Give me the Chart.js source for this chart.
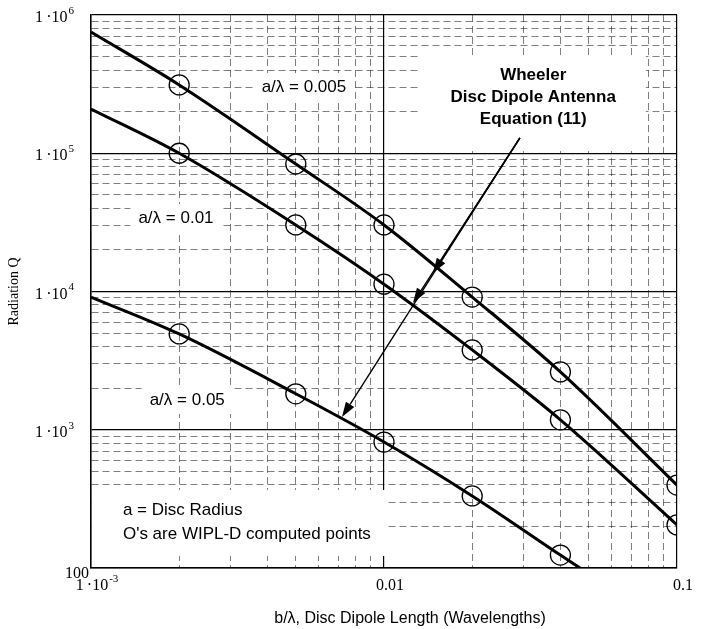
<!DOCTYPE html>
<html><head><meta charset="utf-8">
<script src="https://cdn.jsdelivr.net/npm/chart.js@4.4.1/dist/chart.umd.min.js"></script>
<style>html,body{margin:0;padding:0;background:#fff}#wrap{width:706px;height:629px}</style>
</head><body><div id="wrap"><canvas id="c" width="706" height="629"></canvas></div>
<script>
// ---- data ----
const lineX   = [0.001, 0.002, 0.005, 0.01, 0.02, 0.04, 0.1];
const lineQ005 = [7.53e5, 3.12e5, 8.36e4, 3.03e4, 9.12e3, 2.62e3, 398];
const lineQ01  = [2.09e5, 1.00e5, 3.03e4, 1.13e4, 3.78e3, 1.18e3, 205];
const lineX05  = [0.001, 0.002, 0.005, 0.01, 0.02, 0.04, 0.0467];
const lineQ05  = [9.12e3, 4.93e3, 1.82e3, 815, 332, 124, 100];

const ptX     = [0.002, 0.005, 0.01, 0.02, 0.04, 0.1];
const ptQ005  = [3.12e5, 8.36e4, 3.03e4, 9.12e3, 2.62e3, 398];
const ptQ01   = [1.00e5, 3.03e4, 1.13e4, 3.78e3, 1.18e3, 205];
const ptX05   = [0.002, 0.005, 0.01, 0.02, 0.04];
const ptQ05   = [4.93e3, 1.82e3, 815, 332, 124];

const xTickValues = [0.001, 0.01, 0.1];
const xTickLabels = ['1·10⁻³', '0.01', '0.1'];
const yTickValues = [100, 1e3, 1e4, 1e5, 1e6];
const yTickLabels = ['100', '1·10³', '1·10⁴', '1·10⁵', '1·10⁶'];

const xTitle = 'b/λ, Disc Dipole Length (Wavelengths)';
const yTitle = 'Radiation Q';

// annotation anchors in data coordinates
const labelTexts = ['a/λ = 0.005', 'a/λ = 0.01', 'a/λ = 0.05'];
const labelAt = [[0.00533, 3.01e5], [0.00195, 3.40e4], [0.00213, 1641]];
const wheelerLines = ['Wheeler', 'Disc Dipole Antenna', 'Equation (11)'];
const wheelerAt = [0.0323, 2.55e5];
const noteLines = ['a = Disc Radius', "O's are WIPL-D computed points"];
const noteAt = [0.001285, 263];
const arrowFrom = [0.0291, 1.29e5];
const arrowTips = [[0.01469, 1.36e4], [0.01256, 8260], [0.00719, 1236]];

// ---- helpers ----
const pairs = (xs, ys) => xs.map((x, i) => ({x, y: ys[i]}));
const isDecade = v => Math.abs(Math.log10(v) - Math.round(Math.log10(v))) < 1e-6;
function logGrid(min, max) {
  const out = [];
  const e0 = Math.round(Math.log10(min)), e1 = Math.round(Math.log10(max));
  for (let e = e0; e < e1; e++)
    for (let k = 1; k <= 9; k++) out.push(Number((k * Math.pow(10, e)).toPrecision(6)));
  out.push(max);
  return out;
}
const SUP = '⁰¹²³⁴⁵⁶⁷⁸⁹⁻', NRM = '0123456789-';
function splitSup(t) {
  let base = '', sup = '';
  for (const ch of t) { const k = SUP.indexOf(ch); if (k >= 0) sup += NRM[k]; else base += ch; }
  return {base: base.replace('·', '\u2009·'), sup};
}
const SERIF = "'Liberation Serif', 'Times New Roman', serif";
const SANS = "'Liberation Sans', Arial, sans-serif";
const BASEF = '16px ' + SERIF, SUPF = '11px ' + SERIF;

function drawTickLabel(ctx, text, x, y, align) {
  const {base, sup} = splitSup(text);
  ctx.font = BASEF; const wb = ctx.measureText(base).width;
  ctx.font = SUPF; const ws = sup ? ctx.measureText(sup).width + 1 : 0;
  const w = wb + ws;
  let left = align === 'right' ? x - w : align === 'center' ? x - w / 2 : x;
  ctx.textAlign = 'left'; ctx.textBaseline = 'middle';
  ctx.font = BASEF; ctx.fillText(base, left, y);
  if (sup) { ctx.font = SUPF; ctx.fillText(sup, left + wb + 1, y - 7); }
}

const gridColor = ctx => (ctx.tick && isDecade(ctx.tick.value)) ? '#000' : 'rgba(0,0,0,0.5)';
const gridWidth = ctx => (ctx.tick && isDecade(ctx.tick.value)) ? 1.2 : 1;
const gridDash = ctx => (ctx.type === 'tick' && ctx.tick && !isDecade(ctx.tick.value)) ? [7, 4] : [];

const annot = {
  id: 'annot',
  beforeDatasetsDraw(chart) {
    const {ctx, chartArea: a, scales: {x, y}} = chart;
    ctx.save();
    ctx.beginPath(); ctx.rect(a.left + 1, a.top + 1, a.right - a.left - 2, a.bottom - a.top - 2); ctx.clip();
    ctx.fillStyle = '#fff';
    ctx.font = '17px ' + SANS;
    labelTexts.forEach((t, i) => {
      const px = x.getPixelForValue(labelAt[i][0]), py = y.getPixelForValue(labelAt[i][1]);
      const w = ctx.measureText(t).width;
      ctx.fillRect(px - w / 2 - 8, py - 14, w + 16, 28);
    });
    ctx.font = 'bold 17px ' + SANS;
    {
      const px = x.getPixelForValue(wheelerAt[0]), py = y.getPixelForValue(wheelerAt[1]);
      const w = Math.max(...wheelerLines.map(t => ctx.measureText(t).width));
      ctx.fillRect(px - w / 2 - 30, py - 42, w + 60, 96);
    }
    ctx.font = '17px ' + SANS;
    {
      const px = x.getPixelForValue(noteAt[0]), py = y.getPixelForValue(noteAt[1]);
      const w = Math.max(...noteLines.map(t => ctx.measureText(t).width));
      ctx.fillRect(px - 40, py - 20, w + 55, 66);
    }
    ctx.restore();
  },
  afterDatasetsDraw(chart) {
    const {ctx, chartArea: a, scales: {x, y}} = chart;
    ctx.save();
    ctx.fillStyle = '#000';
    ctx.textBaseline = 'middle';
    ctx.textAlign = 'center';
    ctx.font = '17px ' + SANS;
    labelTexts.forEach((t, i) => {
      ctx.fillText(t, x.getPixelForValue(labelAt[i][0]), y.getPixelForValue(labelAt[i][1]));
    });
    ctx.font = 'bold 17px ' + SANS;
    {
      const px = x.getPixelForValue(wheelerAt[0]), py = y.getPixelForValue(wheelerAt[1]);
      wheelerLines.forEach((t, i) => ctx.fillText(t, px, py + (i - 1) * 22));
    }
    ctx.font = '17px ' + SANS;
    ctx.textAlign = 'left';
    {
      const px = x.getPixelForValue(noteAt[0]), py = y.getPixelForValue(noteAt[1]);
      noteLines.forEach((t, i) => ctx.fillText(t, px, py + i * 24));
    }
    // arrows
    const sx = x.getPixelForValue(arrowFrom[0]), sy = y.getPixelForValue(arrowFrom[1]);
    ctx.strokeStyle = '#000'; ctx.lineWidth = 1.4;
    arrowTips.forEach(([tx, ty]) => {
      const ex = x.getPixelForValue(tx), ey = y.getPixelForValue(ty);
      const ang = Math.atan2(ey - sy, ex - sx);
      const L = 15, H = 5;
      const bx = ex - L * Math.cos(ang), by = ey - L * Math.sin(ang);
      ctx.beginPath(); ctx.moveTo(sx, sy); ctx.lineTo(bx, by); ctx.stroke();
      ctx.beginPath();
      ctx.moveTo(ex, ey);
      ctx.lineTo(bx + H * Math.sin(ang), by - H * Math.cos(ang));
      ctx.lineTo(bx - H * Math.sin(ang), by + H * Math.cos(ang));
      ctx.closePath(); ctx.fill();
    });
    ctx.restore();
  },
  afterDraw(chart) {
    const {ctx, chartArea: a, scales: {x, y}} = chart;
    ctx.save();
    ctx.fillStyle = '#000';
    yTickValues.forEach((v, i) => {
      const py = y.getPixelForValue(v);
      const hasSup = /[⁰¹²³⁴⁵⁶⁷⁸⁹]/.test(yTickLabels[i]);
      if (hasSup) drawTickLabel(ctx, yTickLabels[i], a.left - 17, py + 3, 'right');
      else drawTickLabel(ctx, yTickLabels[i], a.left - 2, py + 6, 'right');
    });
    xTickValues.forEach((v, i) => {
      const px = x.getPixelForValue(v);
      drawTickLabel(ctx, xTickLabels[i], px + 6, a.bottom + 18, 'center');
    });
    ctx.font = '16px ' + SANS;
    ctx.textAlign = 'center'; ctx.textBaseline = 'middle';
    ctx.fillText(xTitle, (a.left + a.right) / 2 + 26, a.bottom + 51);
    ctx.restore();
  }
};

const lineDs = (data) => ({type: 'line', data, borderColor: '#000', borderWidth: 3, pointRadius: 0,
  fill: false, cubicInterpolationMode: 'monotone', order: 2});
const ptDs = (data) => ({type: 'scatter', data, showLine: false, pointStyle: 'circle', pointRadius: 10,
  pointHoverRadius: 10, borderColor: '#000', backgroundColor: 'rgba(0,0,0,0)', pointBorderWidth: 1.3,
  clip: 0, order: 1});

new Chart(document.getElementById('c'), {
  data: {
    datasets: [
      lineDs(pairs(lineX, lineQ005)),
      lineDs(pairs(lineX, lineQ01)),
      lineDs(pairs(lineX05, lineQ05)),
      ptDs(pairs(ptX, ptQ005)),
      ptDs(pairs(ptX, ptQ01)),
      ptDs(pairs(ptX05, ptQ05))
    ]
  },
  options: {
    responsive: false,
    animation: false,
    devicePixelRatio: 1,
    layout: {padding: {top: 15, right: 29, bottom: 0, left: 0}},
    plugins: {legend: {display: false}, tooltip: {enabled: false}},
    scales: {
      x: {
        type: 'logarithmic', min: 0.001, max: 0.1,
        afterBuildTicks: s => { s.ticks = logGrid(0.001, 0.1).map(v => ({value: v})); },
        afterFit: s => { s.height = 61; s.paddingLeft = 0; s.paddingRight = 0; },
        ticks: {display: false, autoSkip: false, maxRotation: 0, minRotation: 0},
        grid: {drawTicks: false, color: gridColor, lineWidth: gridWidth},
        border: {display: true, color: '#000', width: 1.5, dash: gridDash}
      },
      y: {
        type: 'logarithmic', min: 100, max: 1e6,
        afterBuildTicks: s => { s.ticks = logGrid(100, 1e6).map(v => ({value: v})); },
        afterFit: s => { s.width = 91; s.paddingTop = 0; s.paddingBottom = 0; },
        ticks: {display: false, autoSkip: false},
        grid: {drawTicks: false, color: gridColor, lineWidth: gridWidth},
        border: {display: true, color: '#000', width: 1.5, dash: gridDash},
        title: {display: true, text: yTitle, color: '#000', font: {family: SERIF, size: 14},
          padding: {top: 6, bottom: 0}}
      }
    }
  },
  plugins: [annot]
});
</script>
</body></html>
